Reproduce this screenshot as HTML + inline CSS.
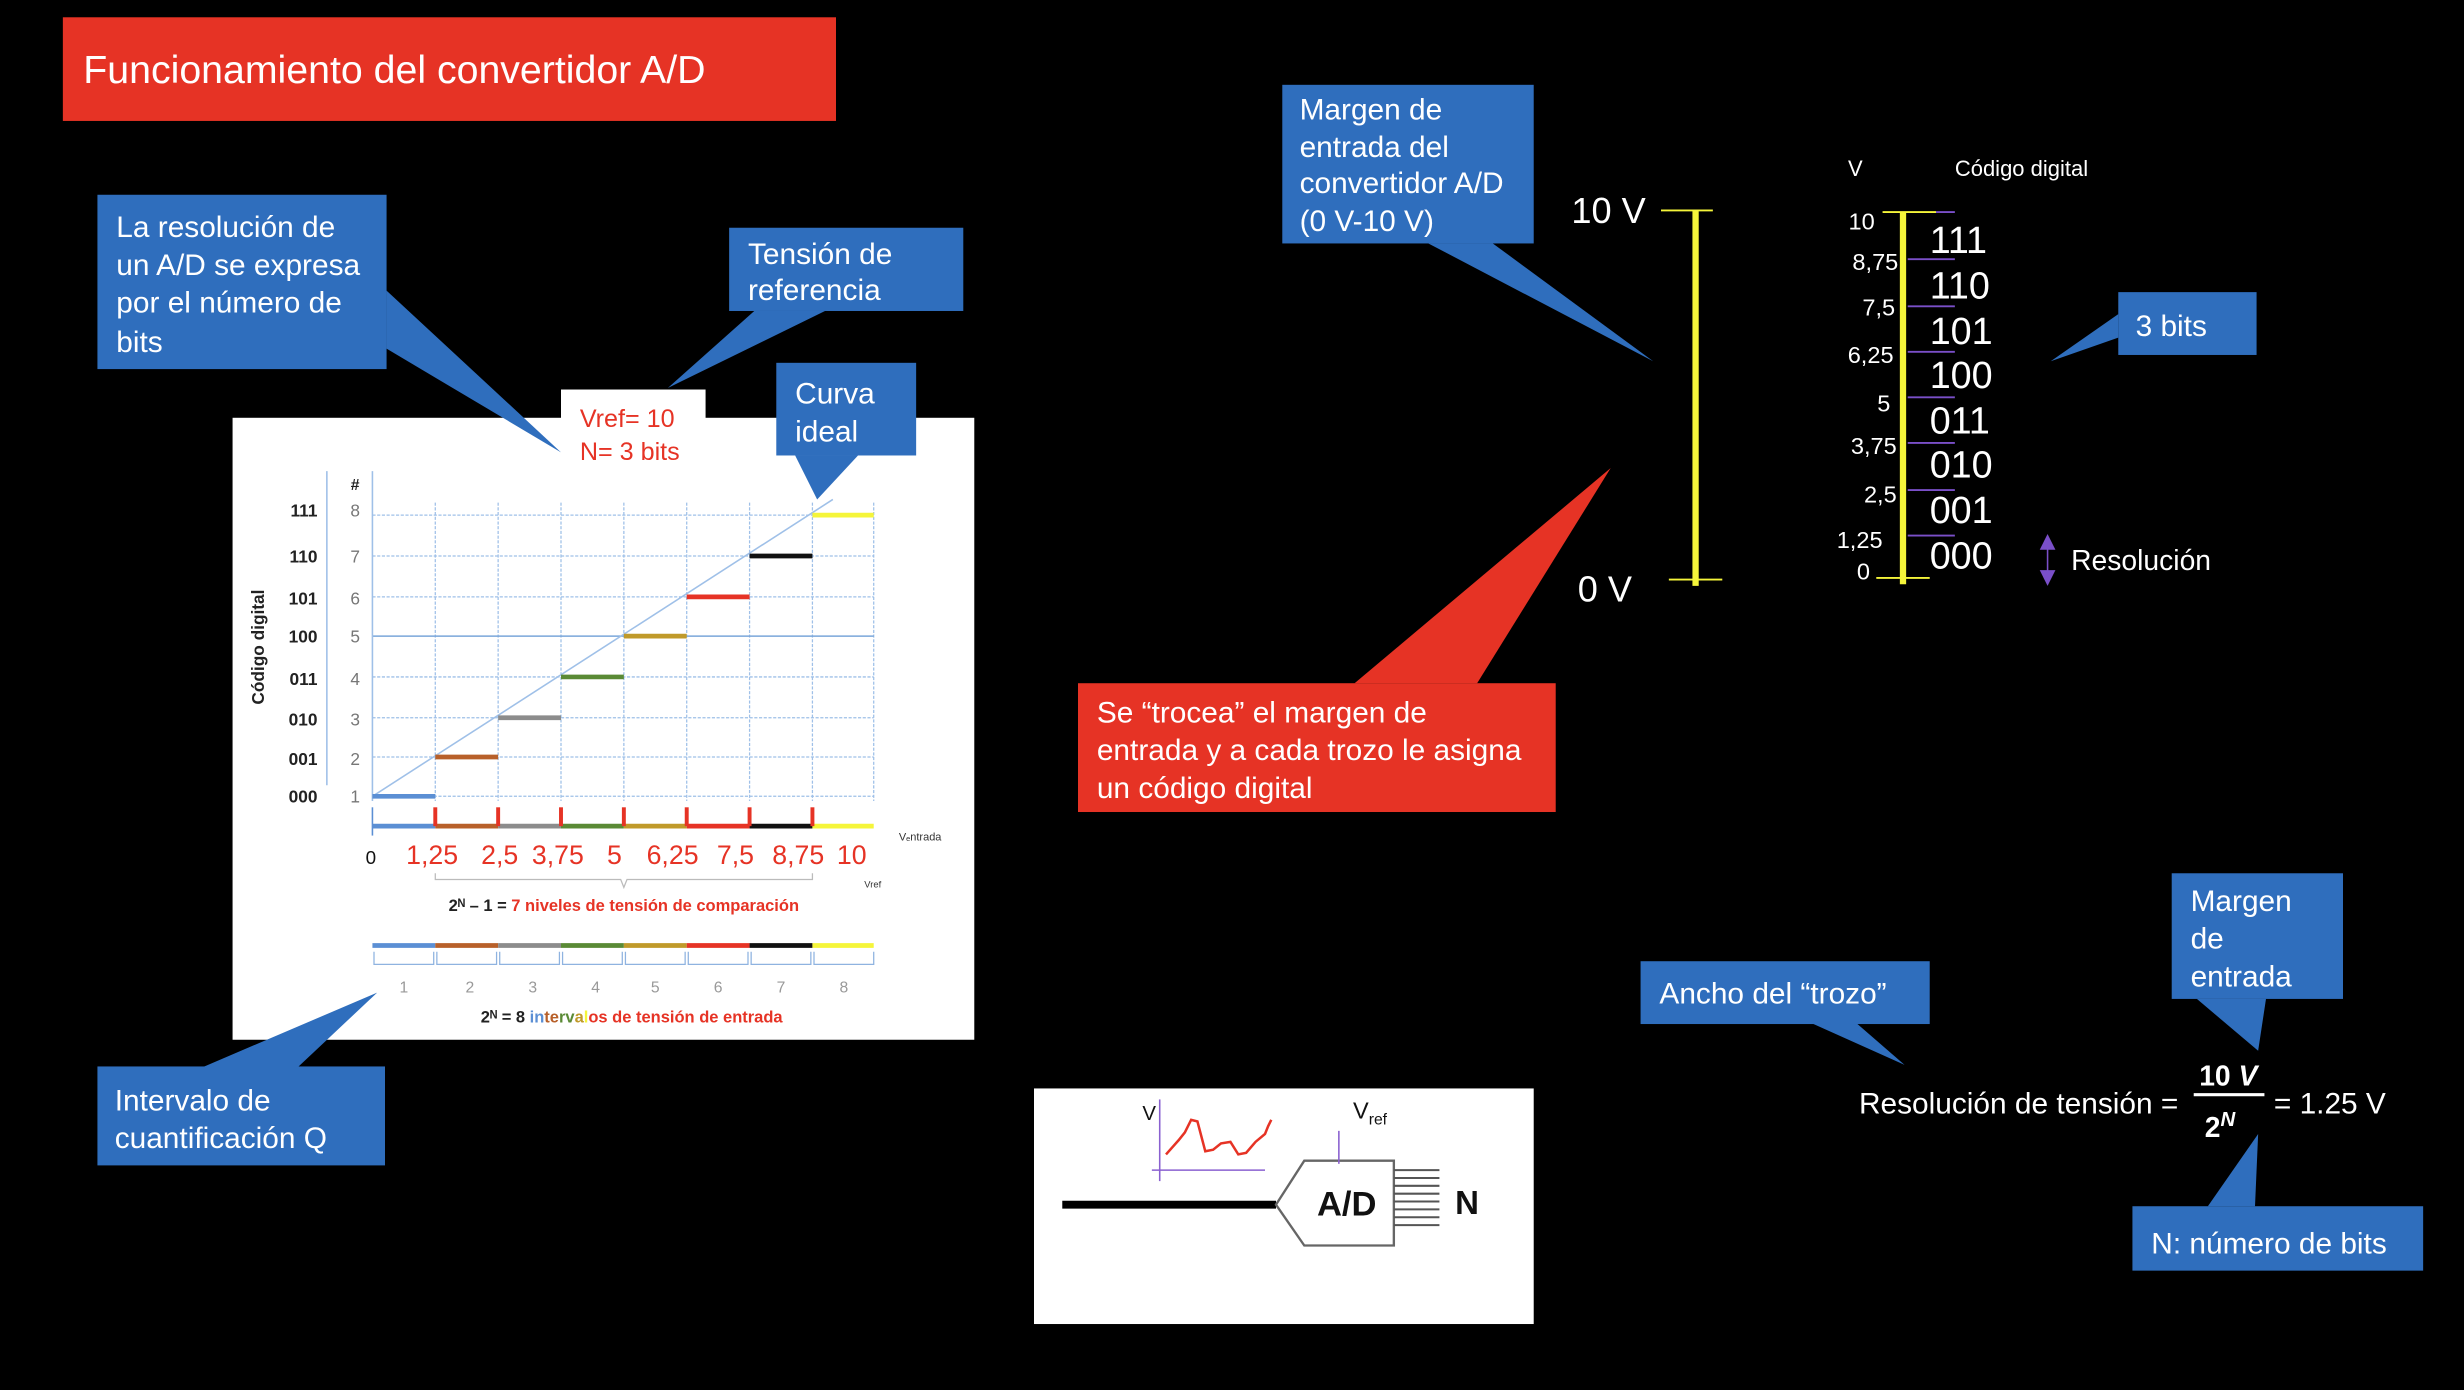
<!DOCTYPE html>
<html><head><meta charset="utf-8"><style>
html,body{margin:0;padding:0;background:#000;width:2464px;height:1390px;overflow:hidden}
svg{display:block}
text{font-family:"Liberation Sans",sans-serif}
</style></head><body>
<svg width="2464" height="1390" viewBox="0 0 1568 885" preserveAspectRatio="none" xmlns="http://www.w3.org/2000/svg">
<rect width="1568" height="885" fill="#000"/>
<rect x="40" y="11" width="492" height="66" fill="#e63325"/>
<text x="53" y="53" font-size="25" fill="#fff">Funcionamiento del convertidor A/D</text>

<rect x="148" y="266" width="472" height="396" fill="#fff"/>
<g stroke="#9fc0e8" stroke-width="0.8" stroke-dasharray="2,1">
<line x1="237" y1="328" x2="556" y2="328"/><line x1="237" y1="354" x2="556" y2="354"/>
<line x1="237" y1="380" x2="556" y2="380"/><line x1="237" y1="431" x2="556" y2="431"/>
<line x1="237" y1="457" x2="556" y2="457"/><line x1="237" y1="482" x2="556" y2="482"/>
<line x1="237" y1="507" x2="556" y2="507"/>
<line x1="277" y1="320" x2="277" y2="510"/><line x1="317" y1="320" x2="317" y2="510"/>
<line x1="357" y1="320" x2="357" y2="510"/><line x1="397" y1="320" x2="397" y2="510"/>
<line x1="437" y1="320" x2="437" y2="510"/><line x1="477" y1="320" x2="477" y2="510"/>
<line x1="517" y1="320" x2="517" y2="510"/><line x1="556" y1="320" x2="556" y2="510"/>
</g>
<line x1="237" y1="405" x2="556" y2="405" stroke="#7aa6da" stroke-width="1"/>
<line x1="208" y1="300" x2="208" y2="500" stroke="#9fc0e8" stroke-width="1"/>
<line x1="237" y1="300" x2="237" y2="510" stroke="#9fc0e8" stroke-width="1"/>
<line x1="237" y1="507" x2="530" y2="318" stroke="#9fc0e8" stroke-width="1"/>
<g stroke-width="3">
<line x1="237" y1="507" x2="277" y2="507" stroke="#5b8fd4"/>
<line x1="277" y1="482" x2="317" y2="482" stroke="#b8602a"/>
<line x1="317" y1="457" x2="357" y2="457" stroke="#8c8c8c"/>
<line x1="357" y1="431" x2="397" y2="431" stroke="#5a8a35"/>
<line x1="397" y1="405" x2="437" y2="405" stroke="#c09a2a"/>
<line x1="437" y1="380" x2="477" y2="380" stroke="#e63325"/>
<line x1="477" y1="354" x2="517" y2="354" stroke="#111"/>
<line x1="517" y1="328" x2="556" y2="328" stroke="#f5f53a"/>
</g>
<g stroke-width="3">
<line x1="237" y1="526" x2="277" y2="526" stroke="#5b8fd4"/>
<line x1="277" y1="526" x2="317" y2="526" stroke="#b8602a"/>
<line x1="317" y1="526" x2="357" y2="526" stroke="#8c8c8c"/>
<line x1="357" y1="526" x2="397" y2="526" stroke="#5a8a35"/>
<line x1="397" y1="526" x2="437" y2="526" stroke="#c09a2a"/>
<line x1="437" y1="526" x2="477" y2="526" stroke="#e63325"/>
<line x1="477" y1="526" x2="517" y2="526" stroke="#111"/>
<line x1="517" y1="526" x2="556" y2="526" stroke="#f5f53a"/>
</g>
<line x1="237" y1="514" x2="237" y2="532" stroke="#5b8fd4" stroke-width="1"/>
<g stroke="#e63325" stroke-width="2.5">
<line x1="277" y1="514" x2="277" y2="526"/><line x1="317" y1="514" x2="317" y2="526"/>
<line x1="357" y1="514" x2="357" y2="526"/><line x1="397" y1="514" x2="397" y2="526"/>
<line x1="437" y1="514" x2="437" y2="526"/><line x1="477" y1="514" x2="477" y2="526"/>
<line x1="517" y1="514" x2="517" y2="526"/>
</g>
<g font-size="11" font-weight="bold" fill="#222" text-anchor="end">
<text x="202" y="329">111</text><text x="202" y="358">110</text><text x="202" y="385">101</text>
<text x="202" y="409">100</text><text x="202" y="436">011</text><text x="202" y="462">010</text>
<text x="202" y="487">001</text><text x="202" y="511">000</text>
</g>
<g font-size="11" fill="#777" text-anchor="middle">
<text x="226" y="329">8</text><text x="226" y="358">7</text><text x="226" y="385">6</text>
<text x="226" y="409">5</text><text x="226" y="436">4</text><text x="226" y="462">3</text>
<text x="226" y="487">2</text><text x="226" y="511">1</text>
</g>
<text x="226" y="312" font-size="10" font-weight="bold" fill="#222" text-anchor="middle">#</text>
<text transform="translate(168,412) rotate(-90)" font-size="11" font-weight="bold" fill="#222" text-anchor="middle">Código digital</text>
<text x="236" y="550" font-size="12" fill="#111" text-anchor="middle">0</text>
<g font-size="17" fill="#e63325" text-anchor="middle">
<text x="275" y="550">1,25</text><text x="318" y="550">2,5</text><text x="355" y="550">3,75</text>
<text x="391" y="550">5</text><text x="428" y="550">6,25</text><text x="468" y="550">7,5</text>
<text x="508" y="550">8,75</text><text x="542" y="550">10</text>
</g>
<text x="572" y="535" font-size="7" fill="#333">Vₑntrada</text>
<text x="550" y="565" font-size="6" fill="#333">Vref</text>
<path d="M277 556 L277 560 L395 560 L397 565 L399 560 L517 560 L517 556" fill="none" stroke="#bbb" stroke-width="0.8"/>
<text x="397" y="580" font-size="10.5" font-weight="bold" fill="#222" text-anchor="middle">2ᴺ – 1 = <tspan fill="#e63325">7 niveles de tensión de comparación</tspan></text>
<g stroke-width="3">
<line x1="237" y1="602" x2="277" y2="602" stroke="#5b8fd4"/>
<line x1="277" y1="602" x2="317" y2="602" stroke="#b8602a"/>
<line x1="317" y1="602" x2="357" y2="602" stroke="#8c8c8c"/>
<line x1="357" y1="602" x2="397" y2="602" stroke="#5a8a35"/>
<line x1="397" y1="602" x2="437" y2="602" stroke="#c09a2a"/>
<line x1="437" y1="602" x2="477" y2="602" stroke="#e63325"/>
<line x1="477" y1="602" x2="517" y2="602" stroke="#111"/>
<line x1="517" y1="602" x2="556" y2="602" stroke="#f5f53a"/>
</g>
<g fill="none" stroke="#8fb3e0" stroke-width="0.8">
<path d="M238 606 v8 h38 v-8"/><path d="M278 606 v8 h38 v-8"/><path d="M318 606 v8 h38 v-8"/>
<path d="M358 606 v8 h38 v-8"/><path d="M398 606 v8 h38 v-8"/><path d="M438 606 v8 h38 v-8"/>
<path d="M478 606 v8 h38 v-8"/><path d="M518 606 v8 h38 v-8"/>
</g>
<g font-size="10" fill="#999" text-anchor="middle">
<text x="257" y="632">1</text><text x="299" y="632">2</text><text x="339" y="632">3</text><text x="379" y="632">4</text>
<text x="417" y="632">5</text><text x="457" y="632">6</text><text x="497" y="632">7</text><text x="537" y="632">8</text>
</g>
<text x="402" y="651" font-size="10.5" font-weight="bold" fill="#222" text-anchor="middle">2ᴺ = 8 <tspan fill="#5b8fd4">in</tspan><tspan fill="#b8602a">te</tspan><tspan fill="#5a8a35">rv</tspan><tspan fill="#c09a2a">a</tspan><tspan fill="#f5f53a">l</tspan><tspan fill="#e63325">os de tensión de entrada</tspan></text>

<rect x="357" y="248" width="92" height="50" fill="#fff"/>
<text x="369" y="272" font-size="16" fill="#e63325">Vref= 10</text>
<text x="369" y="293" font-size="16" fill="#e63325">N= 3 bits</text>

<g fill="#2f6ebd">
<rect x="62" y="124" width="184" height="111"/>
<polygon points="246,185 357,288 246,222"/>
<rect x="464" y="145" width="149" height="53"/>
<polygon points="480,198 525,198 425,247"/>
<rect x="494" y="231" width="89" height="59"/>
<polygon points="506,290 546,290 520,318"/>
<rect x="62" y="679" width="183" height="63"/>
<polygon points="130,679 190,679 240,632"/>
<rect x="816" y="54" width="160" height="101"/>
<polygon points="909,155 950,155 1052,230"/>
<rect x="1348" y="186" width="88" height="40"/>
<polygon points="1348,200 1348,215 1305,230"/>
<rect x="1044" y="612" width="184" height="40"/>
<polygon points="1154,652 1182,652 1212,678"/>
<rect x="1382" y="556" width="109" height="80"/>
<polygon points="1398,636 1442,636 1437,669"/>
<rect x="1357" y="768" width="185" height="41"/>
<polygon points="1405,768 1435,768 1437,722"/>
</g>
<g fill="#fff" font-size="19">
<text x="74" y="151">La resolución de</text><text x="74" y="175">un A/D se expresa</text>
<text x="74" y="199">por el número de</text><text x="74" y="224">bits</text>
<text x="476" y="168">Tensión de</text><text x="476" y="191">referencia</text>
<text x="506" y="257">Curva</text><text x="506" y="281">ideal</text>
<text x="73" y="707">Intervalo de</text><text x="73" y="731">cuantificación Q</text>
<text x="827" y="76">Margen de</text><text x="827" y="100">entrada del</text>
<text x="827" y="123">convertidor A/D</text><text x="827" y="147">(0 V-10 V)</text>
<text x="1359" y="214">3 bits</text>
<text x="1056" y="639">Ancho del “trozo”</text>
<text x="1394" y="580">Margen</text><text x="1394" y="604">de</text><text x="1394" y="628">entrada</text>
<text x="1369" y="798">N: número de bits</text>
</g>

<rect x="686" y="435" width="304" height="82" fill="#e63325"/>
<polygon points="862,435 940,435 1025,298" fill="#e63325"/>
<g fill="#fff" font-size="19">
<text x="698" y="460">Se “trocea” el margen de</text>
<text x="698" y="484">entrada y a cada trozo le asigna</text>
<text x="698" y="508">un código digital</text>
</g>

<text x="1000" y="142" font-size="23" fill="#fff">10 V</text>
<text x="1004" y="383" font-size="23" fill="#fff">0 V</text>
<line x1="1057" y1="134" x2="1090" y2="134" stroke="#f5f53a" stroke-width="1.2"/>
<line x1="1062" y1="369" x2="1096" y2="369" stroke="#f5f53a" stroke-width="1.2"/>
<line x1="1079" y1="134" x2="1079" y2="373" stroke="#f5f53a" stroke-width="4"/>

<text x="1176" y="112" font-size="14" fill="#fff">V</text>
<text x="1244" y="112" font-size="14" fill="#fff">Código digital</text>
<line x1="1198" y1="135" x2="1232" y2="135" stroke="#f5f53a" stroke-width="1.2"/>
<line x1="1194" y1="368" x2="1228" y2="368" stroke="#f5f53a" stroke-width="1.2"/>
<g stroke="#7a4fc8" stroke-width="1.2">
<line x1="1232" y1="135" x2="1244" y2="135"/>
<line x1="1214" y1="165" x2="1244" y2="165"/><line x1="1214" y1="195" x2="1244" y2="195"/>
<line x1="1214" y1="224" x2="1244" y2="224"/><line x1="1214" y1="253" x2="1244" y2="253"/>
<line x1="1214" y1="282" x2="1244" y2="282"/><line x1="1214" y1="312" x2="1244" y2="312"/>
<line x1="1214" y1="341" x2="1244" y2="341"/>
</g>
<line x1="1211" y1="135" x2="1211" y2="372" stroke="#f5f53a" stroke-width="4"/>
<g fill="#fff" font-size="15" text-anchor="end">
<text x="1193" y="146">10</text><text x="1208" y="172">8,75</text><text x="1206" y="201">7,5</text>
<text x="1205" y="231">6,25</text><text x="1203" y="262">5</text><text x="1207" y="289">3,75</text>
<text x="1207" y="320">2,5</text><text x="1198" y="349">1,25</text><text x="1190" y="369">0</text>
</g>
<g fill="#fff" font-size="24">
<text x="1228" y="161">111</text><text x="1228" y="190">110</text><text x="1228" y="219">101</text>
<text x="1228" y="247">100</text><text x="1228" y="276">011</text><text x="1228" y="304">010</text>
<text x="1228" y="333">001</text><text x="1228" y="362">000</text>
</g>
<line x1="1303" y1="346" x2="1303" y2="368" stroke="#7a4fc8" stroke-width="1"/>
<polygon points="1298,350 1308,350 1303,340" fill="#7a4fc8"/>
<polygon points="1298,363 1308,363 1303,373" fill="#7a4fc8"/>
<text x="1318" y="363" font-size="18" fill="#fff">Resolución</text>

<text x="1183" y="709" font-size="19" fill="#fff">Resolución de tensión =</text>
<text x="1418" y="691" font-size="18" font-weight="bold" fill="#fff" text-anchor="middle" font-family="Liberation Serif">10 <tspan font-style="italic">V</tspan></text>
<line x1="1396" y1="697" x2="1441" y2="697" stroke="#fff" stroke-width="2"/>
<text x="1403" y="724" font-size="18" font-weight="bold" fill="#fff" font-family="Liberation Serif">2<tspan font-size="13" dy="-7" font-style="italic">N</tspan></text>
<text x="1447" y="709" font-size="19" fill="#fff">= 1.25 V</text>

<rect x="658" y="693" width="318" height="150" fill="#fff"/>
<line x1="676" y1="767" x2="812" y2="767" stroke="#000" stroke-width="5"/>
<polygon points="812,767 830,739 887,739 887,793 830,793" fill="#fff" stroke="#666" stroke-width="1.5"/>
<text x="857" y="774" font-size="22" font-weight="bold" fill="#111" text-anchor="middle">A/D</text>
<g stroke="#555" stroke-width="1.3">
<line x1="887" y1="745" x2="916" y2="745"/><line x1="887" y1="750" x2="916" y2="750"/>
<line x1="887" y1="755" x2="916" y2="755"/><line x1="887" y1="760" x2="916" y2="760"/>
<line x1="887" y1="765" x2="916" y2="765"/><line x1="887" y1="770" x2="916" y2="770"/>
<line x1="887" y1="775" x2="916" y2="775"/><line x1="887" y1="780" x2="916" y2="780"/>
</g>
<text x="926" y="773" font-size="21" font-weight="bold" fill="#111">N</text>
<line x1="852" y1="720" x2="852" y2="741" stroke="#8a60d0" stroke-width="1"/>
<text x="861" y="712" font-size="15" fill="#111">V<tspan font-size="10" dy="4">ref</tspan></text>
<line x1="738" y1="700" x2="738" y2="752" stroke="#8a60d0" stroke-width="1"/>
<line x1="733" y1="745" x2="805" y2="745" stroke="#8a60d0" stroke-width="1"/>
<text x="727" y="713" font-size="13" fill="#111">V</text>
<polyline points="742,735 750,726 754,721 758,713 762,714 767,733 772,732 777,728 783,727 788,735 793,734 799,727 805,722 807,717 809,713" fill="none" stroke="#e63325" stroke-width="1.6"/>
</svg>
</body></html>
